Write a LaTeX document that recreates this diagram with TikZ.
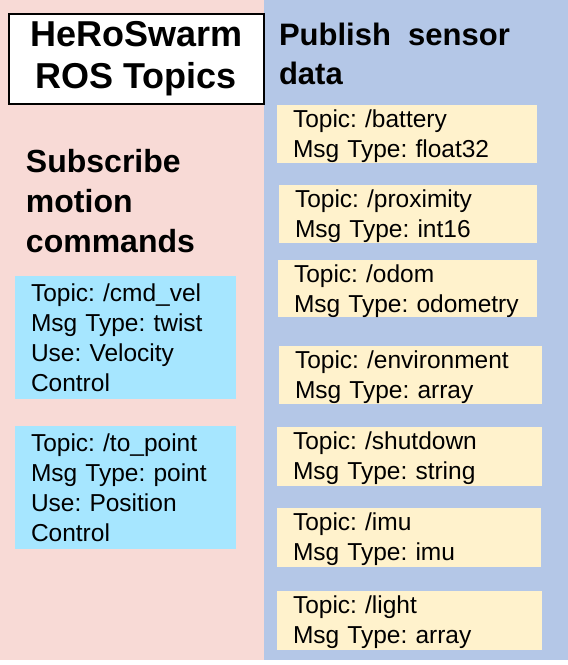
\documentclass[tikz,border=0pt]{standalone}
\usepackage{fontspec}
\setmainfont{Liberation Sans}
\usetikzlibrary{positioning}

\definecolor{subpink}{RGB}{248,218,214}
\definecolor{pubblue}{RGB}{180,199,231}
\definecolor{subcyan}{RGB}{166,230,255}
\definecolor{pubcream}{RGB}{255,242,204}

\frenchspacing
\hyphenpenalty=10000

\begin{document}
\begin{tikzpicture}[
		x=1pt, y=-1pt,
		% --- ESTILOS DE LOS PANELES ---
		panel/.style = {rectangle, inner sep=0pt, anchor=north west},
		% --- ESTILOS DE LOS TITULOS ---
		title_box/.style = {draw=black, fill=white, line width=2pt, rectangle, anchor=north west, minimum width=255pt, minimum height=90pt, inner sep=0pt, align=center, font=\fontsize{36}{42}\selectfont\bfseries},
		heading/.style = {anchor=north west, inner sep=0pt, align=left},
		% --- ESTILOS DE LOS TOPICS ---
		topic_sub/.style = {fill=subcyan, rectangle, anchor=north west, minimum width=221pt, minimum height=123pt, text width=189pt, inner xsep=16pt, inner ysep=0pt, align=left, font=\fontsize{24.5}{30}\selectfont},
		topic_pub/.style = {fill=pubcream, rectangle, anchor=north west, minimum height=58pt, inner xsep=16pt, inner ysep=0pt, align=left, font=\fontsize{24.5}{30}\selectfont, execute at begin node={\rule{0pt}{22pt}}}
		]
		
		% =========================================================================
		% 1. FONDO Y PANELES
		% =========================================================================
		\node [panel, fill=white, minimum width=568pt, minimum height=665pt] (canvas) at (0,0) {};
		\node [panel, fill=subpink, minimum width=264pt, minimum height=660pt] (panel_sub) at (0,0) {};
		\node [panel, fill=pubblue, minimum width=304pt, minimum height=660pt] (panel_pub) at (264,0) {};
		
		% =========================================================================
		% 2. TITULOS
		% =========================================================================
		\node [title_box] (title) at (8,13) {HeRoSwarm\\ROS Topics};
		
		\node [heading, font=\fontsize{32}{40}\selectfont\bfseries] (head_sub) at (26,149) {Subscribe\\motion\\commands};
		\node [heading, font=\fontsize{31}{39}\selectfont\bfseries] (head_pub) at (279,23) {Publish~ sensor\\data};
		
		% =========================================================================
		% 3. TOPICS DE SUSCRIPCION (izquierda)
		% =========================================================================
		\node [topic_sub] (cmd_vel) at (15,276) {Topic: /cmd\_vel\\Msg Type: twist\\Use: Velocity\\Control};
		\node [topic_sub] (to_point) at (15,426) {Topic: /to\_point\\Msg Type: point\\Use: Position\\Control};
		
		% =========================================================================
		% 4. TOPICS DE PUBLICACION (derecha)
		% =========================================================================
		\node [topic_pub, minimum width=260pt, text width=228pt] (battery) at (277,105) {Topic: /battery\\Msg Type: float32};
		\node [topic_pub, minimum width=258pt, text width=226pt] (proximity) at (279,185) {Topic: /proximity\\Msg Type: int16};
		\node [topic_pub, minimum width=259pt, text width=227pt, minimum height=57pt] (odom) at (278,260) {Topic: /odom\\Msg Type: odometry};
		\node [topic_pub, minimum width=263pt, text width=231pt] (environment) at (279,346) {Topic: /environment\\Msg Type: array};
		\node [topic_pub, minimum width=265pt, text width=233pt, minimum height=59pt] (shutdown) at (277,427) {Topic: /shutdown\\Msg Type: string};
		\node [topic_pub, minimum width=264pt, text width=232pt, minimum height=59pt] (imu) at (277,508) {Topic: /imu\\Msg Type: imu};
		\node [topic_pub, minimum width=265pt, text width=233pt, minimum height=59pt] (light) at (277,591) {Topic: /light\\Msg Type: array};
		
	\end{tikzpicture}
\end{document}
